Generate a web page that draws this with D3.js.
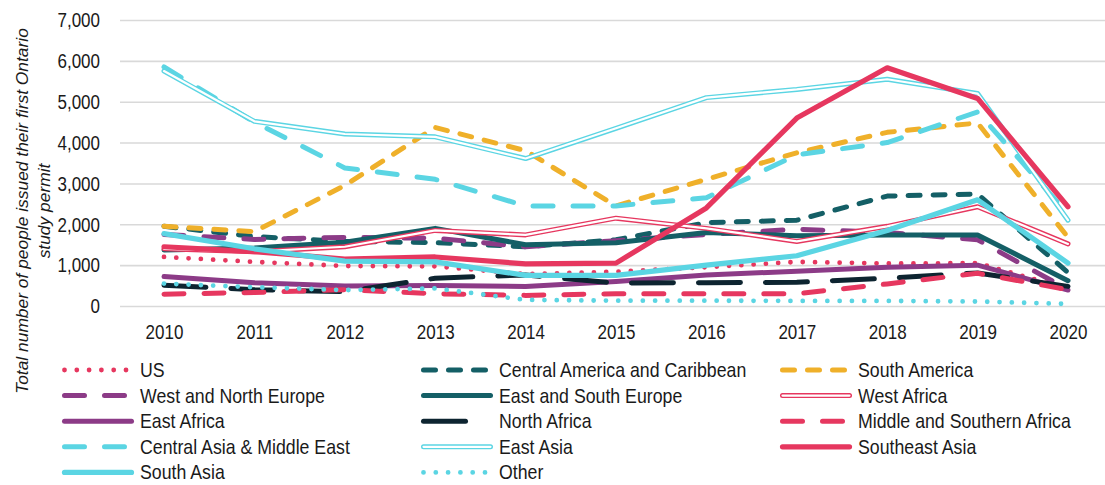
<!DOCTYPE html>
<html><head><meta charset="utf-8">
<script src="https://cdn.jsdelivr.net/npm/d3@7"></script>
<style>
body{margin:0;background:#fff;}
svg{display:block;font-family:"Liberation Sans",Arial,sans-serif;}
</style>
</head><body>
<svg id="c" width="1105" height="485"></svg>
<script>
// ---- data ----
const years = ["2010","2011","2012","2013","2014","2015","2016","2017","2018","2019","2020"];
const yTicks = [0,1000,2000,3000,4000,5000,6000,7000];
const seriesNames = ["US","Central America and Caribbean","South America","West and North Europe","East and South Europe","West Africa","East Africa","North Africa","Middle and Southern Africa","Central Asia & Middle East","East Asia","Southeast Asia","South Asia","Other"];
const us               = [1200,1080, 980, 970, 780, 840, 950,1080,1040,1050, 420];
const centralAmerica   = [1950,1700,1580,1550,1450,1620,2040,2100,2690,2740, 820];
const southAmerica     = [1950,1820,2950,4370,3800,2450,3100,3750,4250,4480,1680];
const westNorthEurope  = [1750,1630,1680,1660,1450,1600,1750,1880,1800,1620, 400];
const eastSouthEurope  = [1370,1420,1560,1900,1500,1550,1800,1720,1740,1740, 620];
const westAfrica       = [1400,1330,1450,1850,1740,2150,1900,1580,1950,2430,1520];
const eastAfrica       = [ 720, 570, 490, 500, 480, 600, 760, 850, 950,1000, 390];
const northAfrica      = [ 510, 400, 350, 680, 760, 560, 570, 580, 680, 810, 480];
const midSouthAfrica   = [ 290, 330, 400, 300, 260, 300, 300, 300, 540, 800, 400];
const centralAsia      = [5850,4500,3380,3100,2450,2450,2650,3700,4000,4750,2250];
const eastAsia         = [5750,4520,4210,4140,3610,4350,5100,5300,5550,5200,2100];
const southeastAsia    = [1450,1330,1150,1200,1030,1050,2400,4600,5830,5080,2430];
const southAsia        = [1770,1400,1100,1080, 750, 750,1000,1230,1850,2600,1050];
const other            = [ 550, 460, 390, 430, 150, 130, 130, 125, 125, 110,  50];
const seriesValues = [us,centralAmerica,southAmerica,westNorthEurope,eastSouthEurope,westAfrica,eastAfrica,northAfrica,midSouthAfrica,centralAsia,eastAsia,southeastAsia,southAsia,other];

// ---- styles ----
const PINK="#E6375F", PURPLE="#8C3B87", CYAN="#5BD5E3", TEAL="#145F66", NAVY="#0D2430", YELLOW="#EFB02A";
const styles = {
  "US":{c:PINK,w:4.8,dash:"0 12.3"},
  "Central America and Caribbean":{c:TEAL,w:5,dash:"12 13"},
  "South America":{c:YELLOW,w:5,dash:"12 13"},
  "West and North Europe":{c:PURPLE,w:5,dash:"20 20"},
  "East and South Europe":{c:TEAL,w:5},
  "West Africa":{c:PINK,w:5,dbl:true},
  "East Africa":{c:PURPLE,w:5},
  "North Africa":{c:NAVY,w:5,dash:"42 25"},
  "Middle and Southern Africa":{c:PINK,w:5,dash:"20 20"},
  "Central Asia & Middle East":{c:CYAN,w:5,dash:"20 20"},
  "East Asia":{c:CYAN,w:5,dbl:true},
  "Southeast Asia":{c:PINK,w:5.2},
  "South Asia":{c:CYAN,w:5.2},
  "Other":{c:CYAN,w:4.8,dash:"0 12.3"}
};
const SX = 0.81, FS = 21, LSX = 0.865, LFS = 20.5;

const W=1105;
const svg=d3.select("#c");
const x=d3.scalePoint().domain(years).range([164,1068]);
const y=d3.scaleLinear().domain([0,7000]).range([306,20]);

// y axis + gridlines
const gy=svg.append("g").attr("transform","translate(120,0)")
  .call(d3.axisLeft(y).tickValues(yTicks).tickFormat(d3.format(",")).tickSize(-(W-120)).tickPadding(0));
gy.attr("font-family",null).attr("font-size",null);
gy.select(".domain").remove();
gy.selectAll(".tick line").attr("stroke","#d9d9d9").attr("stroke-width",1.6);
gy.selectAll(".tick text").attr("x",0).attr("transform",`translate(-20,0) scale(${SX},1)`)
  .attr("font-size",FS).attr("fill","#1a1a1a").attr("text-anchor","end");

// x axis
const gx=svg.append("g").attr("transform","translate(0,306)")
  .call(d3.axisBottom(x).tickSize(0).tickPadding(18));
gx.attr("font-family",null).attr("font-size",null);
gx.select(".domain").remove();
gx.selectAll(".tick text").attr("transform",`scale(${SX},1)`).attr("font-size",FS).attr("fill","#1a1a1a");

// y title
const yt=svg.append("text").attr("transform","translate(28,211) rotate(-90)")
  .attr("text-anchor","middle").attr("font-style","italic").attr("font-size",17.4).attr("fill","#1a1a1a");
yt.append("tspan").attr("x",0).attr("y",0).text("Total number of people issued their first Ontario");
yt.append("tspan").attr("x",0).attr("y",22).text("study permit");

// lines
const line=d3.line().x((d,i)=>x(years[i])).y(d=>y(d));
const plot=svg.append("g");
seriesNames.forEach((name,si)=>{
  const s=styles[name];
  const p=plot.append("path").datum(seriesValues[si]).attr("d",line)
    .attr("fill","none").attr("stroke",s.c).attr("stroke-width",s.w)
    .attr("stroke-linejoin","round").attr("stroke-linecap","round");
  if(s.dash) p.attr("stroke-dasharray",s.dash);
  if(s.dbl){
    plot.append("path").datum(seriesValues[si]).attr("d",line)
      .attr("fill","none").attr("stroke","#fff").attr("stroke-width",2.2)
      .attr("stroke-linejoin","round").attr("stroke-linecap","round");
  }
});

// legend
const colX=[62,421,780], row0=370, rowH=25.6, swW=72;
const lg=svg.append("g");
seriesNames.forEach((name,i)=>{
  const s=styles[name];
  const cx=colX[i%3], cy=row0+Math.floor(i/3)*rowH;
  const pts=[[cx+2.5,cy],[cx+swW-2.5,cy]];
  const l=lg.append("path").attr("d",d3.line()(pts)).attr("stroke",s.c).attr("stroke-width",s.w)
    .attr("stroke-linecap","round").attr("fill","none");
  if(s.dash) l.attr("stroke-dasharray",s.dash);
  if(s.dbl) lg.append("path").attr("d",d3.line()(pts)).attr("stroke","#fff").attr("stroke-width",2.2).attr("stroke-linecap","round");
  lg.append("text").attr("transform",`translate(${cx+swW+6},${cy+7}) scale(${LSX},1)`)
    .attr("font-size",LFS).attr("fill","#1a1a1a").text(name);
});
</script>
</body></html>
